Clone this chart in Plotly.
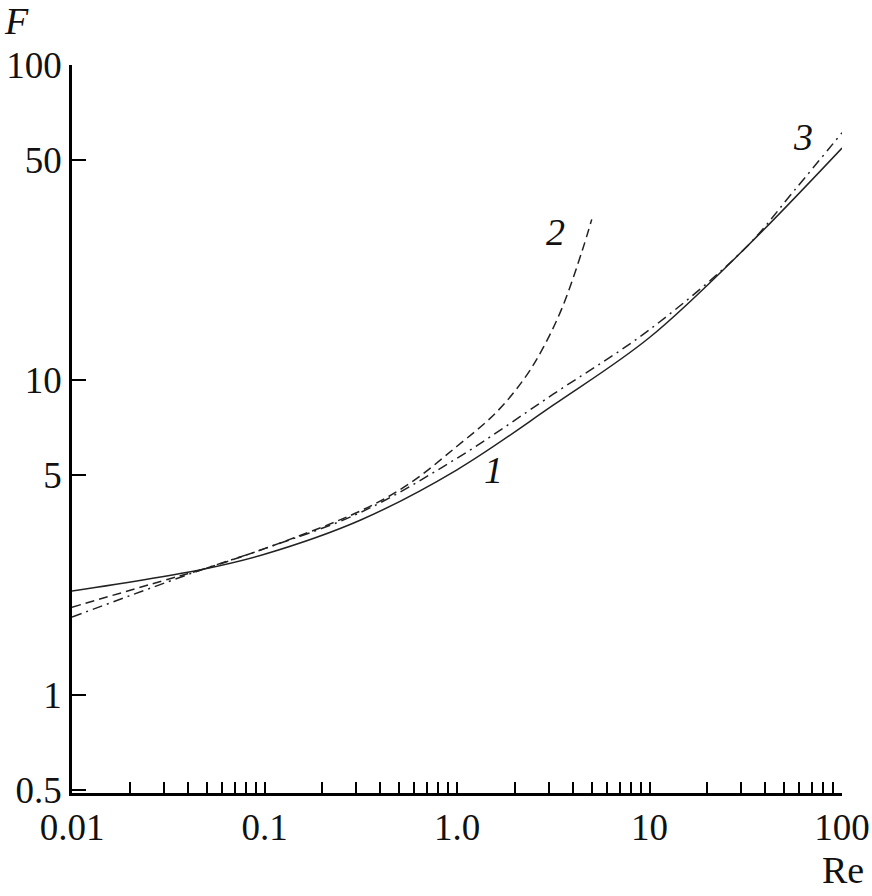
import math
import plotly.graph_objects as go

# Curve 1 (solid)
re_1 = [0.01, 0.048, 0.1, 0.316, 1.0, 3.16, 10, 31.6, 100]
f_1 = [2.14, 2.51, 2.80, 3.597, 5.19, 8.32, 13.65, 26.3, 54.5]

# Curve 2 (dashed)
re_2 = [0.01, 0.0316, 0.048, 0.1, 0.316, 0.562, 1.0, 1.585, 2.239, 2.818, 3.548, 4.467, 5.012]
f_2 = [1.901, 2.333, 2.51, 2.917, 3.846, 4.677, 6.166, 7.852, 10.12, 12.74, 17.18, 25.70, 32.36]

# Curve 3 (dash-dot)
re_3 = [0.01, 0.0316, 0.048, 0.1, 0.316, 1.0, 3.16, 10, 31.6, 56.2, 100]
f_3 = [1.770, 2.291, 2.51, 2.917, 3.802, 5.649, 9.016, 14.45, 26.3, 39.81, 60.95]

x_tickvals = [0.01, 0.1, 1.0, 10, 100]
x_ticktext = ["0.01", "0.1", "1.0", "10", "100"]
x_minor = [m * d for d in [0.01, 0.1, 1, 10] for m in range(2, 10)]
y_tickvals = [0.5, 1, 5, 10, 50, 100]
y_ticktext = ["0.5", "1", "5", "10", "50", "100"]

FONT = "Liberation Serif"
fig = go.Figure()
line_col = "#222222"
fig.add_trace(go.Scatter(x=re_1, y=f_1, mode="lines", line=dict(color=line_col, width=1.5, shape="spline", smoothing=1.0)))
fig.add_trace(go.Scatter(x=re_2, y=f_2, mode="lines", line=dict(color=line_col, width=1.5, dash="9px,5px", shape="spline", smoothing=1.0)))
fig.add_trace(go.Scatter(x=re_3, y=f_3, mode="lines", line=dict(color=line_col, width=1.5, dash="10px,5px,2px,5px", shape="spline", smoothing=1.0)))

axis_common = dict(showgrid=False, zeroline=False, showline=True, linecolor="black", linewidth=2.5,
                   ticks="inside", tickcolor="black", tickwidth=2, automargin=False,
                   tickfont=dict(family=FONT, size=37, color="#111111"))
fig.update_xaxes(type="log", range=[-2, 2], tickmode="array", tickvals=x_tickvals, ticktext=x_ticktext,
                 ticklen=11, minor=dict(tickmode="array", tickvals=x_minor, ticks="inside", ticklen=11,
                                        tickwidth=2, tickcolor="black"), **axis_common)
fig.update_yaxes(type="log", range=[math.log10(0.489), 2], tickmode="array", tickvals=y_tickvals,
                 ticktext=y_ticktext, ticklen=14, **axis_common)

label_font = dict(family=FONT, size=38, color="#111111")
ann = dict(showarrow=False, font=label_font, xanchor="center", yanchor="middle")
annotations = [
    dict(x=math.log10(1.54), y=math.log10(5.18), xref="x", yref="y", text="<i>1</i>", **ann),
    dict(x=math.log10(3.23), y=math.log10(29.5), xref="x", yref="y", text="<i>2</i>", **ann),
    dict(x=math.log10(62.7), y=math.log10(59.1), xref="x", yref="y", text="<i>3</i>", **ann),
    dict(x=-0.0727, y=1.0604, xref="paper", yref="paper", text="<i>F</i>", **ann),
    dict(x=1.001, y=-0.1058, xref="paper", yref="paper", text="Re", **ann),
]
fig.update_layout(width=872, height=896, margin=dict(l=72, r=30, t=65, b=103, autoexpand=False),
                  paper_bgcolor="white", plot_bgcolor="white", showlegend=False,
                  annotations=annotations)
fig.write_html("out.html", config={"displayModeBar": False},
               post_script="document.body.style.margin='0';document.body.style.overflow='hidden';")
